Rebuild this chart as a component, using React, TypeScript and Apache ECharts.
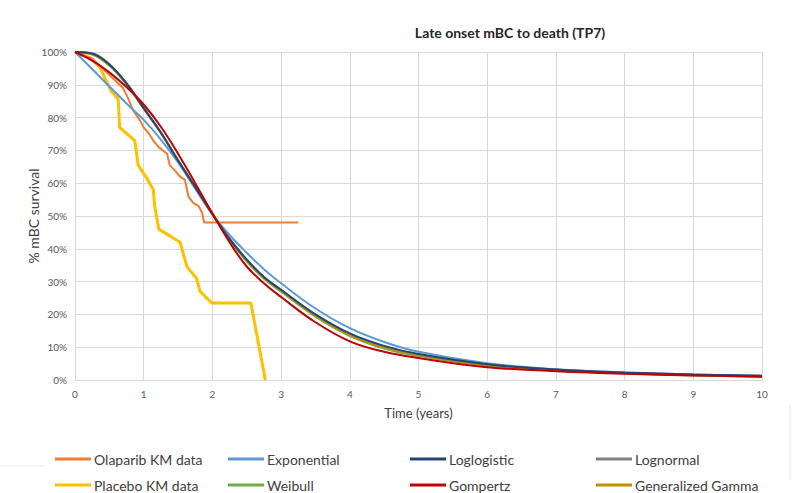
import React, { useEffect, useRef } from "react";
import * as echarts from "echarts";

const titleText = "Late onset mBC to death (TP7)";
const xAxisTitle = "Time (years)";
const yAxisTitle = "% mBC survival";

const olaparibT = [0, 0.1, 0.25, 0.4, 0.55, 0.7, 0.77, 0.85, 0.95, 1.0, 1.08, 1.14, 1.22, 1.34, 1.38, 1.45, 1.53, 1.6, 1.65, 1.72, 1.8, 1.85, 1.88, 3.25];
const olaparibS = [100, 99, 98, 95, 92, 89, 86, 82, 79, 77, 75, 73, 71, 69, 65.5, 64, 62, 61, 56, 54, 53, 51, 48, 48];

const placeboT = [0, 0.2, 0.36, 0.46, 0.53, 0.63, 0.65, 0.87, 0.92, 1.06, 1.14, 1.16, 1.22, 1.53, 1.63, 1.77, 1.82, 1.99, 2.56, 2.77];
const placeboS = [100, 98.5, 95.5, 91, 88, 85.5, 77, 73, 65.5, 61, 58, 53, 46, 42, 34.5, 31, 27, 23.5, 23.5, 0];

const fitT = [0, 0.25, 0.5, 0.75, 1, 1.25, 1.5, 1.75, 2, 2.25, 2.5, 2.75, 3, 3.5, 4, 4.5, 5, 6, 7, 8, 9, 10];
const exponential = [100, 94.8, 89.5, 84.3, 79.3, 73.3, 66.3, 58.3, 50.5, 44.2, 38.8, 33.8, 29.5, 21.8, 15.8, 11.6, 8.6, 5.1, 3.3, 2.3, 1.7, 1.3];
const weibull = [100, 99.2, 95.8, 90.1, 82.7, 75.4, 67, 58.9, 50.5, 42.8, 36.1, 30.9, 26.9, 19.3, 13.4, 9.6, 7.3, 4.3, 2.9, 2.0, 1.4, 1.0];
const loglogistic = [100, 99.5, 96.2, 90.4, 82.9, 75.4, 66.9, 58.8, 50.6, 43, 36.7, 31.4, 27.5, 20, 14.2, 10.4, 7.9, 4.8, 3.2, 2.3, 1.7, 1.3];
const lognormal = [100, 99.6, 96.3, 90.5, 83, 75.5, 67, 58.9, 50.6, 43.1, 36.7, 31.4, 27.4, 19.9, 14, 10.2, 7.8, 4.7, 3.1, 2.2, 1.6, 1.2];
const genGamma = [100, 99.4, 96.1, 90.3, 82.8, 75.4, 66.9, 58.8, 50.5, 42.9, 36.5, 31.2, 27.2, 19.6, 13.7, 10, 7.6, 4.5, 3.0, 2.1, 1.5, 1.1];
const gompertz = [100, 97.4, 93.8, 89.3, 84, 77.2, 69, 60, 50.8, 42, 34.6, 29.5, 25.3, 17.6, 11.8, 8.6, 6.7, 3.9, 2.7, 1.9, 1.4, 1.0];

const xTicks = [0, 1, 2, 3, 4, 5, 6, 7, 8, 9, 10];

const pair = (t: number[], s: number[]) => t.map((v, i) => [v, s[i]]);

const FONT = "Lato, 'Open Sans', sans-serif";

export default function App() {
  const ref = useRef<HTMLDivElement>(null);
  useEffect(() => {
    document.body.style.margin = "0";
    if (!ref.current) return;
    const chart = echarts.init(ref.current, null, { renderer: "svg" });

    const fitted = [
      { name: "Exponential", color: "#5B9BD5", data: exponential },
      { name: "Weibull", color: "#70AD47", data: weibull },
      { name: "Lognormal", color: "#7F7F7F", data: lognormal },
      { name: "Generalized Gamma", color: "#BF9000", data: genGamma },
      { name: "Loglogistic", color: "#264478", data: loglogistic },
      { name: "Gompertz", color: "#C00000", data: gompertz },
    ];

    const series: any[] = [
      {
        name: "Placebo KM data",
        type: "line",
        data: pair(placeboT, placeboS),
        showSymbol: false,
        lineStyle: { color: "#FFC000", width: 3 },
        itemStyle: { color: "#FFC000" },
        z: 2,
      },
      {
        name: "Olaparib KM data",
        type: "line",
        data: pair(olaparibT, olaparibS),
        showSymbol: false,
        lineStyle: { color: "#ED7D31", width: 2 },
        itemStyle: { color: "#ED7D31" },
        z: 2,
      },
      ...fitted.map((f) => ({
        name: f.name,
        type: "line",
        data: pair(fitT, f.data),
        smooth: 0.4,
        showSymbol: false,
        lineStyle: { color: f.color, width: 2 },
        itemStyle: { color: f.color },
        z: 3,
      })),
    ];

    const legendItems = [
      { name: "Olaparib KM data", left: 55, top: 452 },
      { name: "Exponential", left: 228, top: 452 },
      { name: "Loglogistic", left: 410, top: 452 },
      { name: "Lognormal", left: 596, top: 452 },
      { name: "Placebo KM data", left: 55, top: 478 },
      { name: "Weibull", left: 228, top: 478 },
      { name: "Gompertz", left: 410, top: 478 },
      { name: "Generalized Gamma", left: 596, top: 478 },
    ];

    chart.setOption({
      animation: false,
      backgroundColor: "#ffffff",
      title: {
        text: titleText,
        left: 505,
        top: 20,
        textAlign: "center",
        textStyle: { fontFamily: FONT, fontSize: 14, fontWeight: "bold", color: "#262626" },
      },
      grid: { left: 75, right: 47, top: 52, bottom: 113, containLabel: false },
      legend: legendItems.map((l) => ({
        data: [l.name],
        left: l.left,
        top: l.top,
        icon: "rect",
        itemWidth: 36,
        itemHeight: 3,
        itemGap: 0,
        padding: 0,
        textStyle: { fontFamily: FONT, fontSize: 14, color: "#404040", padding: [0, 0, 0, -2] },
        selectedMode: false,
      })),
      xAxis: {
        type: "value",
        min: 0,
        max: 10,
        interval: 1,
        name: xAxisTitle,
        nameLocation: "middle",
        nameGap: 26,
        nameMoveOverlap: false,
        nameTextStyle: { fontFamily: FONT, fontSize: 13, color: "#404040" },
        axisLine: { show: true, lineStyle: { color: "#D9D9D9", width: 1 } },
        axisTick: { show: false },
        axisLabel: {
          fontFamily: FONT,
          fontSize: 10,
          color: "#595959",
          margin: 9,
          formatter: (v: number) => (xTicks.includes(v) ? String(v) : ""),
        },
        splitLine: { show: true, lineStyle: { color: "#D9D9D9", width: 1 } },
      },
      yAxis: {
        type: "value",
        min: 0,
        max: 100,
        interval: 10,
        name: yAxisTitle,
        nameLocation: "middle",
        nameGap: 35,
        nameMoveOverlap: false,
        nameRotate: 90,
        nameTextStyle: { fontFamily: FONT, fontSize: 14, color: "#404040" },
        axisLine: { show: false },
        axisTick: { show: false },
        axisLabel: { fontFamily: FONT, fontSize: 10, color: "#595959", margin: 8, formatter: "{value}%" },
        splitLine: { show: true, lineStyle: { color: "#D9D9D9", width: 1 } },
      },
      graphic: [
        { type: "line", shape: { x1: 790, y1: 405, x2: 790, y2: 480 }, style: { stroke: "#E6E6E6", lineWidth: 1 } },
        { type: "line", shape: { x1: 0, y1: 466, x2: 45, y2: 466 }, style: { stroke: "#EDEDED", lineWidth: 1 } },
      ],
      series,
    });

    return () => chart.dispose();
  }, []);

  return <div ref={ref} style={{ width: 809, height: 493 }} />;
}
